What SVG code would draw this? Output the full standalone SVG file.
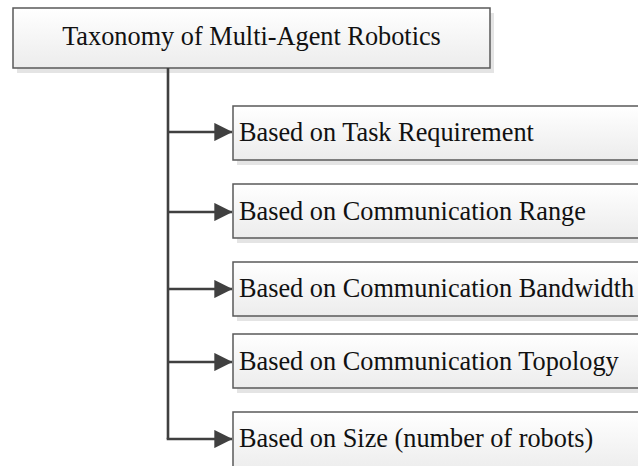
<svg xmlns="http://www.w3.org/2000/svg" width="638" height="466" viewBox="0 0 638 466">
  <style>
    .box { fill: url(#boxFill); stroke: #595959; stroke-width: 1.5; }
    .shadow { fill: #e4e4e4; }
    .label { font-family: "Liberation Serif", "Times New Roman", serif; font-size: 26.3px; fill: #111; }
    .link { fill: none; stroke: #404040; stroke-width: 2.6; }
  </style>
  <defs>
    <linearGradient id="boxFill" x1="0" y1="0" x2="0" y2="1">
      <stop offset="0" stop-color="#ffffff"/>
      <stop offset="1" stop-color="#ececec"/>
    </linearGradient>
    <marker id="arrow" markerWidth="7" markerHeight="7" refX="6.8" refY="3.5" orient="auto" markerUnits="strokeWidth">
      <path d="M0,0 L7,3.5 L0,7 Z" fill="#404040"/>
    </marker>
  </defs>
  <rect width="638" height="466" fill="#ffffff"/>

  <!-- root node -->
  <g id="root">
    <rect class="shadow" x="17" y="13" width="477" height="60"/>
    <rect class="box" x="13" y="8" width="477" height="60"/>
    <text class="label" x="251.5" y="45" text-anchor="middle">Taxonomy of Multi-Agent Robotics</text>
  </g>

  <!-- category nodes -->
  <g id="task">
    <rect class="shadow" x="237" y="111" width="420" height="54"/>
    <rect class="box" x="233" y="106" width="420" height="54"/>
    <text class="label" x="239" y="141">Based on Task Requirement</text>
  </g>
  <g id="range">
    <rect class="shadow" x="237" y="189" width="420" height="54"/>
    <rect class="box" x="233" y="184" width="420" height="54"/>
    <text class="label" x="239" y="220">Based on Communication Range</text>
  </g>
  <g id="bandwidth">
    <rect class="shadow" x="237" y="267" width="420" height="54"/>
    <rect class="box" x="233" y="262" width="420" height="54"/>
    <text class="label" x="239" y="297">Based on Communication Bandwidth</text>
  </g>
  <g id="topology">
    <rect class="shadow" x="237" y="339" width="420" height="54"/>
    <rect class="box" x="233" y="334" width="420" height="54"/>
    <text class="label" x="239" y="370">Based on Communication Topology</text>
  </g>
  <g id="size">
    <rect class="shadow" x="237" y="417" width="420" height="60"/>
    <rect class="box" x="233" y="412" width="420" height="60"/>
    <text class="label" x="239" y="447">Based on Size (number of robots)</text>
  </g>

  <!-- connectors -->
  <g id="connectors">
    <path class="link" d="M168,68 V439"/>
    <path class="link" d="M168,132 H232" marker-end="url(#arrow)"/>
    <path class="link" d="M168,212 H232" marker-end="url(#arrow)"/>
    <path class="link" d="M168,289 H232" marker-end="url(#arrow)"/>
    <path class="link" d="M168,362 H232" marker-end="url(#arrow)"/>
    <path class="link" d="M166.7,439 H232" marker-end="url(#arrow)"/>
  </g>
</svg>
